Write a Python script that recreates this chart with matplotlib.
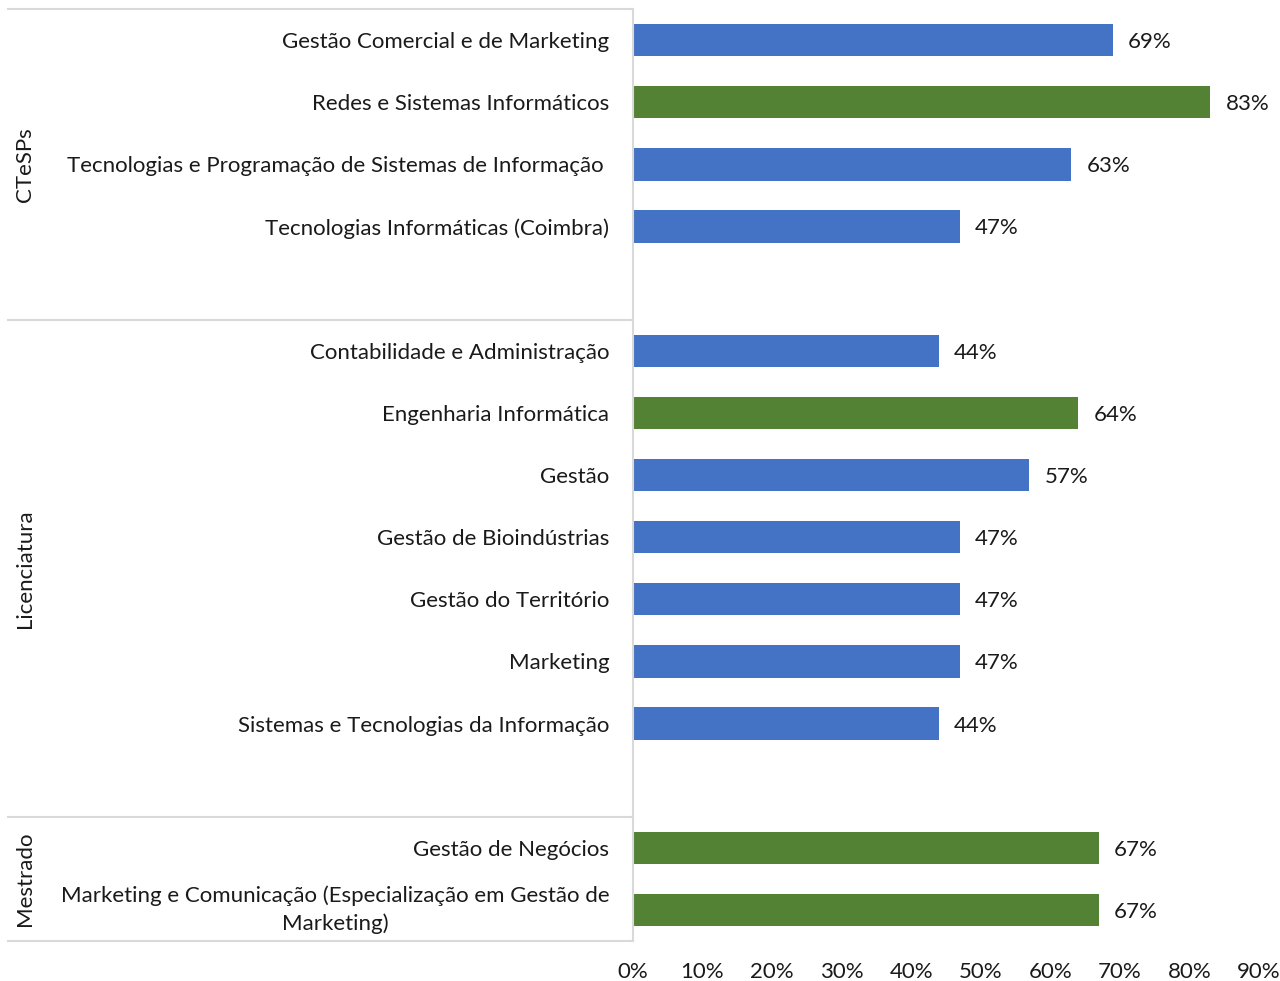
import matplotlib
matplotlib.use('Agg')
import matplotlib.pyplot as plt
from matplotlib.transforms import blended_transform_factory
from matplotlib.lines import Line2D

plt.rcParams['font.family'] = ['Lato', 'DejaVu Sans']

# cursos por grupo (linhas vazias separam os grupos)
cursos = [
    "Gestão Comercial e de Marketing",
    "Redes e Sistemas Informáticos",
    "Tecnologias e Programação de Sistemas de Informação ",
    "Tecnologias Informáticas (Coimbra)",
    "",
    "Contabilidade e Administração",
    "Engenharia Informática",
    "Gestão",
    "Gestão de Bioindústrias",
    "Gestão do Território",
    "Marketing",
    "Sistemas e Tecnologias da Informação",
    "",
    "Gestão de Negócios",
    "Marketing e Comunicação (Especialização em Gestão de\nMarketing)",
]
valores = [0.69, 0.83, 0.63, 0.47, None,
           0.44, 0.64, 0.57, 0.47, 0.47, 0.47, 0.44, None,
           0.67, 0.67]
destaque = [False, True, False, False, False,
            False, True, False, False, False, False, False, False,
            True, True]
grupos = ["CTeSPs", "Licenciatura", "Mestrado"]
grupo_inicio = [0, 5, 13]
grupo_fim = [5, 13, 15]
xticks = [0, 0.1, 0.2, 0.3, 0.4, 0.5, 0.6, 0.7, 0.8, 0.9]

azul = '#4472C4'
verde = '#548235'
cinza = '#d9d9d9'
cor_texto = '#1a1a1a'
fs = 16

fig = plt.figure(figsize=(12.8, 9.81), dpi=100)
ax = fig.add_axes([0.4945, 0.0408, 0.9835 - 0.4945, 0.9908 - 0.0408])

pos = list(range(len(cursos)))
for i, v in enumerate(valores):
    if v is None:
        continue
    cor = verde if destaque[i] else azul
    ax.barh(i, v, height=0.52, color=cor)
    ax.annotate("{:.0f}%".format(v * 100), xy=(v, i), xytext=(11, 0),
                textcoords='offset points', va='center_baseline', ha='left',
                fontsize=fs, color=cor_texto)

ax.set_ylim(len(cursos) - 0.5, -0.5)
ax.set_xlim(0, 0.9)
ax.set_xticks(xticks)
ax.set_xticklabels(["{:.0f}%".format(t * 100) for t in xticks], fontsize=fs, color=cor_texto)
ax.set_yticks(pos)
ax.set_yticklabels(cursos, fontsize=fs, color=cor_texto)
for lbl in ax.get_yticklabels():
    lbl.set_multialignment('center')
    lbl.set_linespacing(1.45)
    if "\n" in lbl.get_text():
        lbl.set_verticalalignment('center')
    else:
        lbl.set_verticalalignment('center_baseline')
ax.tick_params(axis='both', length=0)
ax.tick_params(axis='y', pad=17)
ax.tick_params(axis='x', pad=15)
for s in ['top', 'right', 'bottom']:
    ax.spines[s].set_visible(False)
ax.spines['left'].set_color(cinza)
ax.spines['left'].set_linewidth(1.5)

# linhas de separação dos grupos
trans = blended_transform_factory(fig.transFigure, ax.transData)
x0 = 8 / 1280
x1 = 0.4945
for y in [-0.5, 4.5, 12.5, 14.5]:
    fig.add_artist(Line2D([x0, x1], [y, y], transform=trans, color=cinza, lw=1.5))

for nome, a, b in zip(grupos, grupo_inicio, grupo_fim):
    meio = (a + b - 1) / 2
    fig.text(25 / 1280, meio, nome, transform=trans, rotation=90,
             ha='center', va='center', fontsize=fs, color=cor_texto)

fig.savefig('out.png', dpi=100)
